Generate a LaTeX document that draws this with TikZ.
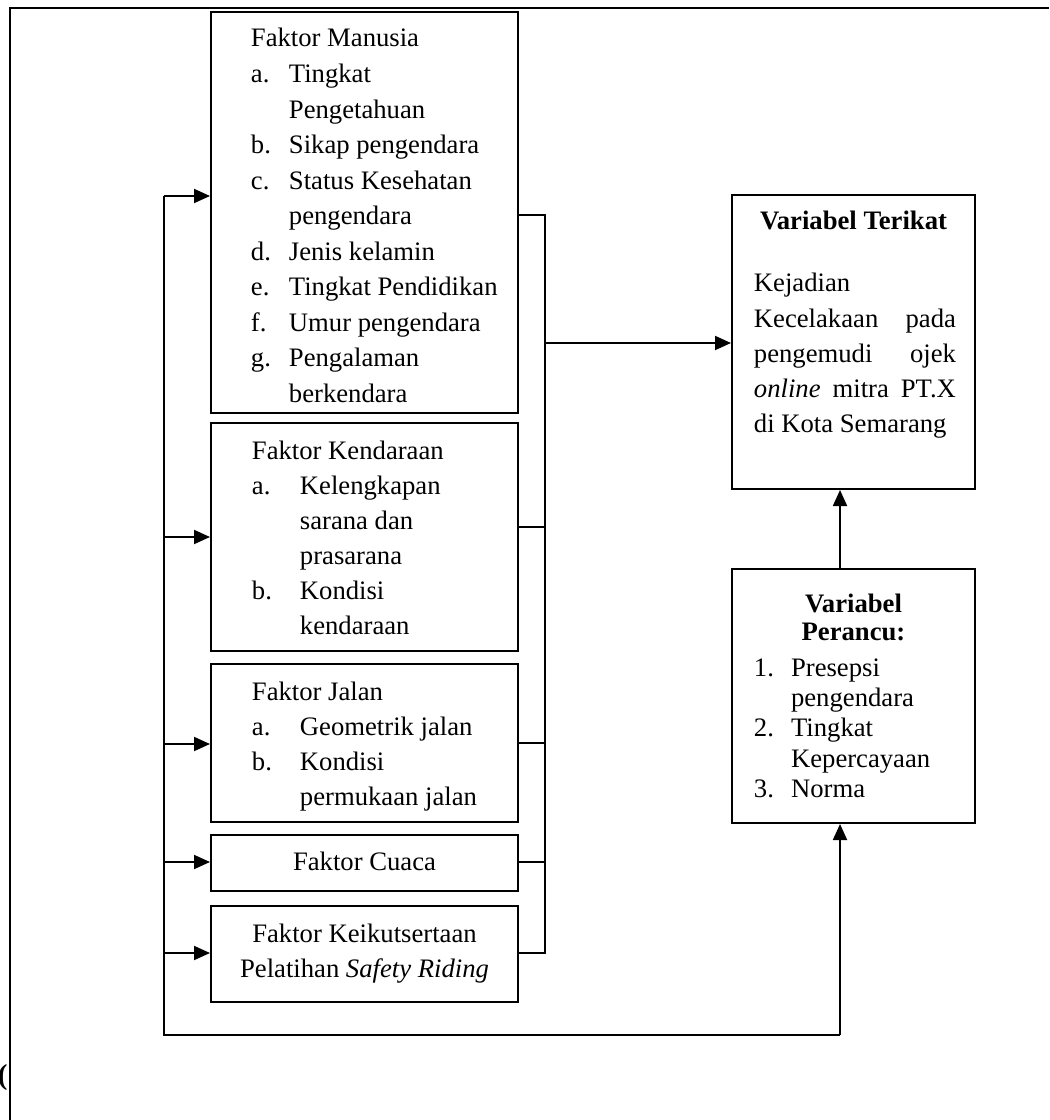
\documentclass[tikz,border=0pt]{standalone}
\usepackage{fontspec}
\setmainfont{Liberation Serif}
\usetikzlibrary{arrows.meta,fit}
\begin{document}
\begin{tikzpicture}[x=0.45pt,y=-0.45pt, line width=0.85pt,
  box/.style={draw, inner sep=0pt, line width=0.9pt},
  txt/.style={inner sep=0pt, anchor=base west, align=left},
  ctxt/.style={inner sep=0pt, anchor=base},
  arr/.style={-{Triangle[length=7.2pt,width=6.3pt]}},
  frame/.style={line width=0.9pt}
]
\useasboundingbox (0,0) rectangle (1049,1120);
% outer frame
\draw[frame] (10,1120) -- (10,8) -- (1049,8);
\node[inner sep=0pt, anchor=base west, font=\fontsize{13}{16}\selectfont\bfseries] (paren) at (-3,1084) {(};

% factor boxes
\node[box, fit={(211,12)(518,413)}] (man) {};
\node[box, fit={(211,423)(518,651)}] (ken) {};
\node[box, fit={(211,664)(518,822)}] (jal) {};
\node[box, fit={(211,835)(518,891)}] (cua) {};
\node[box, fit={(211,906)(518,1002)}] (kei) {};
% variable boxes
\node[box, fit={(732,195)(975,489)}] (ter) {};
\node[box, fit={(732,569)(975,823)}] (per) {};

% texts
\node[txt, font=\fontsize{12}{16}\selectfont] (mantxt) at (250,47) {\begin{tabular}[t]{@{}p{17.1pt}@{}l@{}}
\multicolumn{2}{@{}l@{}}{Faktor Manusia}\\
a. & Tingkat\\
 & Pengetahuan\\
b. & Sikap pengendara\\
c. & Status Kesehatan\\
 & pengendara\\
d. & Jenis kelamin\\
e. & Tingkat Pendidikan\\
f. & Umur pengendara\\
g. & Pengalaman\\
 & berkendara
\end{tabular}};

\node[txt, font=\fontsize{12}{15.8}\selectfont] (kentxt) at (251,459) {\begin{tabular}[t]{@{}p{21.6pt}@{}l@{}}
\multicolumn{2}{@{}l@{}}{Faktor Kendaraan}\\
a. & Kelengkapan\\
 & sarana dan\\
 & prasarana\\
b. & Kondisi\\
 & kendaraan
\end{tabular}};

\node[txt, font=\fontsize{12}{15.75}\selectfont] (jaltxt) at (251,700) {\begin{tabular}[t]{@{}p{21.6pt}@{}l@{}}
\multicolumn{2}{@{}l@{}}{Faktor Jalan}\\
a. & Geometrik jalan\\
b. & Kondisi\\
 & permukaan jalan
\end{tabular}};

\node[ctxt, font=\fontsize{12}{15.75}\selectfont] (cuatxt) at (364.5,870) {Faktor Cuaca};

\node[ctxt, font=\fontsize{12}{15.75}\selectfont] (keitxt) at (364.5,942) {\begin{tabular}[t]{@{}c@{}}
Faktor Keikutsertaan\\
Pelatihan \textit{Safety Riding}
\end{tabular}};

\node[ctxt, font=\fontsize{12}{15.8}\selectfont\bfseries] (tertitle) at (853.5,230) {Variabel Terikat};
\node[txt, font=\fontsize{12}{15.86}\selectfont] (tertxt) at (753,292) {\begin{tabular}[t]{@{}l@{}}
Kejadian\\
\makebox[90.9pt][s]{Kecelakaan pada}\\
\makebox[90.9pt][s]{pengemudi ojek}\\
\makebox[90.9pt][s]{\textit{online} mitra PT.X}\\
di Kota Semarang
\end{tabular}};

\node[ctxt, font=\fontsize{12}{12.8}\selectfont\bfseries] (pertitle) at (853.5,612) {\begin{tabular}[t]{@{}c@{}}
Variabel\\
Perancu:
\end{tabular}};
\node[txt, font=\fontsize{12}{13.7}\selectfont] (pertxt) at (753,676) {\begin{tabular}[t]{@{}p{16.7pt}@{}l@{}}
1. & Presepsi\\
 & pengendara\\
2. & Tingkat\\
 & Kepercayaan\\
3. & Norma
\end{tabular}};

% connector points
\coordinate (l1) at (164,196);
\coordinate (l2) at (164,537);
\coordinate (l3) at (164,744);
\coordinate (l4) at (164,862);
\coordinate (l5) at (164,953);
\coordinate (lb) at (164,1035);
\coordinate (pb) at (840,1035);
\coordinate (r1) at (545,215);
\coordinate (r2) at (545,527);
\coordinate (r3) at (545,743);
\coordinate (r4) at (545,862);
\coordinate (r5) at (545,953);
\coordinate (rm) at (545,343);

% left bus and arrows into factors
\draw (l1) -- (lb) -- (pb);
\draw[arr] (l1) -- (man.west |- l1);
\draw[arr] (l2) -- (ken.west |- l2);
\draw[arr] (l3) -- (jal.west |- l3);
\draw[arr] (l4) -- (cua.west |- l4);
\draw[arr] (l5) -- (kei.west |- l5);
\draw[arr] (pb) -- (per.south -| pb);

% right bus
\draw (man.east |- r1) -- (r1) -- (r5) -- (kei.east |- r5);
\draw (ken.east |- r2) -- (r2);
\draw (jal.east |- r3) -- (r3);
\draw (cua.east |- r4) -- (r4);
\draw[arr] (rm) -- (ter.west |- rm);
\draw[arr] (per.north -| pb) -- (ter.south -| pb);
\end{tikzpicture}
\end{document}
